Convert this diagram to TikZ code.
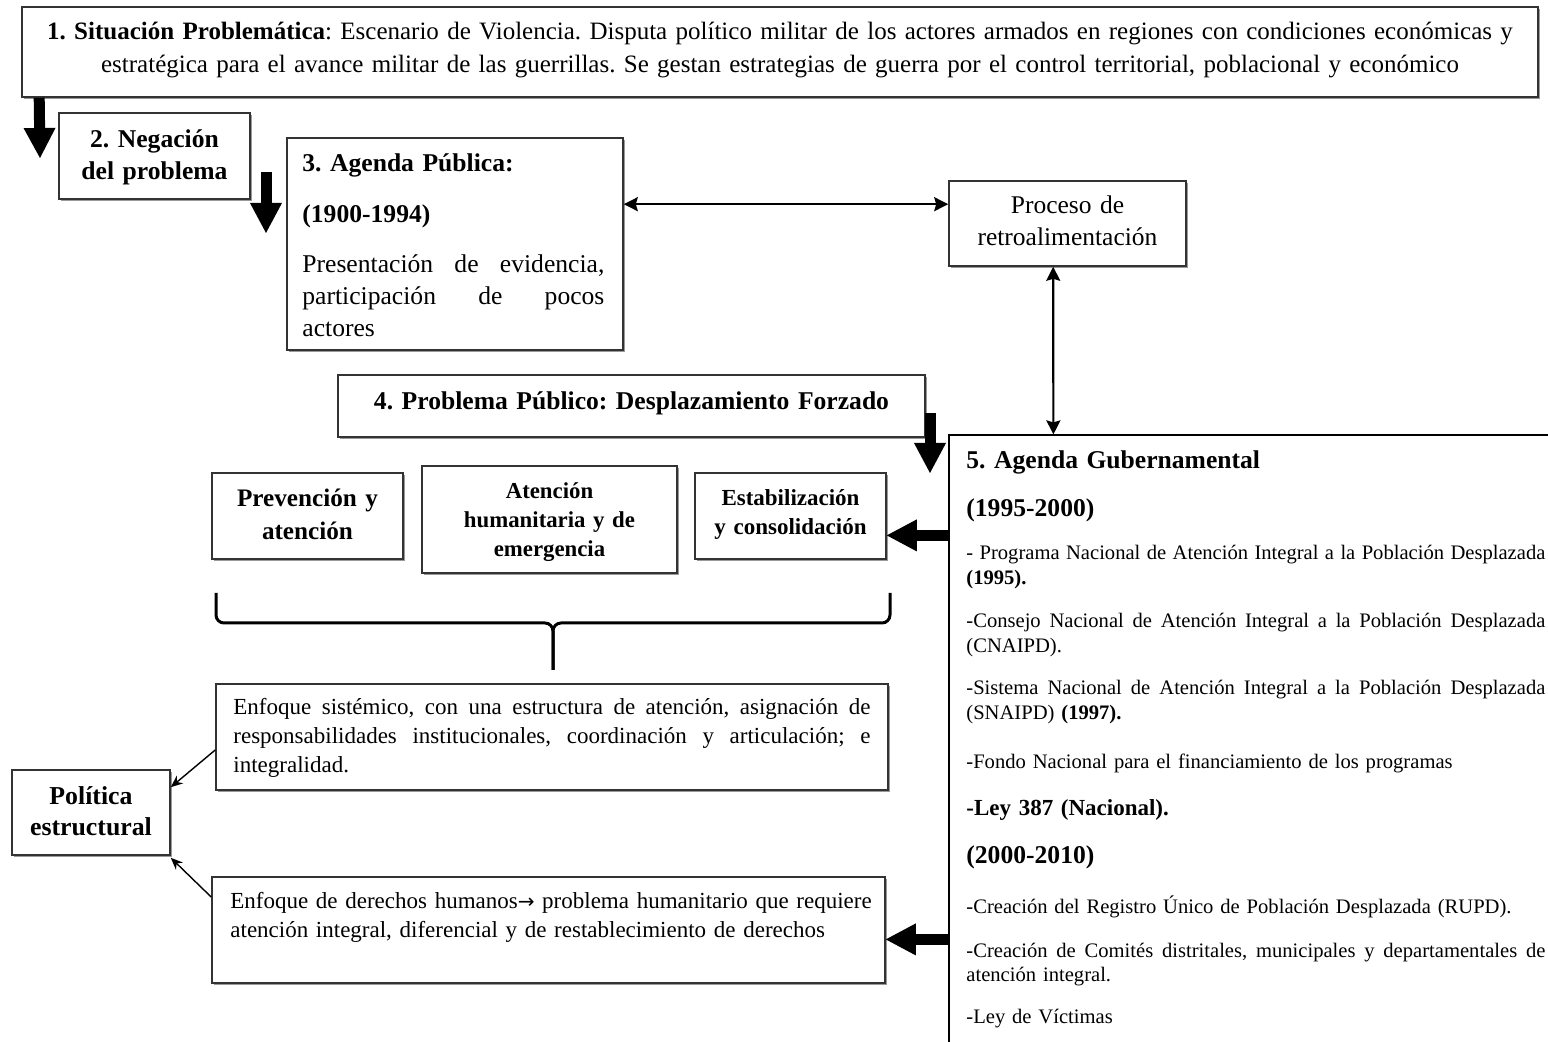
\documentclass[tikz,border=0pt]{standalone}
\usepackage{fontspec}
\setmainfont{Liberation Serif}
\newfontfamily\arrowfont{DejaVu Sans}
\usetikzlibrary{arrows.meta,shadows,fit}
% a line spread to the full text width (TikZ's ragged setting makes spaces rigid, so reset them)
\newcommand\jline[1]{\makebox[\hsize][s]{\spaceskip=0pt\xspaceskip=0pt #1}}
\newcommand\fsz[2]{\fontsize{#1}{#2}\selectfont}
\frenchspacing
\hyphenpenalty=10000

\tikzset{
  panel/.style={draw=black!80, line width=0.8pt, fill=white, inner sep=0pt,
    drop shadow={shadow xshift=0.9pt, shadow yshift=-0.9pt, fill=black!40, opacity=1}},
  openbox/.style={draw=black, line width=0.6pt, fill=white, inner sep=0pt},
  txt/.style={inner sep=0pt, anchor=base, align=center},
  ltxt/.style={inner sep=0pt, anchor=base west, align=left},
  bigarrow/.style={line width=5.5pt, -{Triangle[width=16pt,length=15pt,line width=0pt]}},
  dbl/.style={line width=1.1pt,
    {Stealth[length=7pt,width=7pt,inset=1pt]}-{Stealth[length=7pt,width=7pt,inset=1pt]}},
  pointer/.style={line width=0.7pt, -{Stealth[length=6pt,width=5pt]}},
  bracestroke/.style={line width=1.5pt, rounded corners=4pt}
}

\begin{document}
\begin{tikzpicture}[x=0.5pt,y=-0.5pt]
\useasboundingbox (0,0) rectangle (1548,1042);
\clip (0,0) rectangle (1548,1042);

% frames
\node[panel, fit={(22,7)(1538,97)}] (b1) {};
\node[panel, fit={(59,113)(250,199)}] (b2) {};
\node[panel, fit={(287,138)(623,350)}] (b3) {};
\node[panel, fit={(949,181)(1186,266)}] (br) {};
\node[panel, fit={(338,375)(925,437)}] (b4) {};
\node[openbox, fit={(949,435)(1600,1100)}] (b5) {};
\node[panel, fit={(212,473)(403,559)}] (bp) {};
\node[panel, fit={(422,466)(677,573)}] (ba) {};
\node[panel, fit={(695,473)(886,559)}] (be) {};
\node[panel, fit={(216,684)(888,790)}] (bs) {};
\node[panel, fit={(12,770)(170,855)}] (bpol) {};
\node[panel, fit={(212,877)(885,983)}] (bd) {};

% texts
\node[txt, text width=760pt, font=\fsz{12.5}{16.3}] (t1) at (780,40)
  {\textbf{1. Situación Problemática}: Escenario de Violencia. Disputa político militar de los actores armados en regiones con condiciones económicas y\\estratégica para el avance militar de las guerrillas. Se gestan estrategias de guerra por el control territorial, poblacional y económico};
\node[txt, text width=90pt, font=\fsz{12.8}{16}\bfseries] (t2) at (154.5,148)
  {2. Negación\\del problema};
\node[ltxt, text width=151pt, font=\fsz{12.8}{16}] (t3) at (302,172)
  {\textbf{3. Agenda Pública:}\\[9.5pt]\textbf{(1900-1994)}\\[9pt]\jline{Presentación de evidencia,}\\\jline{participación de pocos}\\actores};
\node[txt, text width=115pt, font=\fsz{12.75}{16}] (tr) at (1067.5,214)
  {Proceso de\\retroalimentación};
\node[txt, text width=290pt, font=\fsz{12.8}{16}\bfseries] (t4) at (631.5,410)
  {4. Problema Público: Desplazamiento Forzado};

\node[ltxt, text width=289.5pt, font=\fsz{12.8}{16}\bfseries] (t5a) at (966,469) {5. Agenda Gubernamental};
\node[ltxt, text width=289.5pt, font=\fsz{12.8}{16}\bfseries] (t5b) at (966,517) {(1995-2000)};
\node[ltxt, text width=289.5pt, font=\fsz{10.3}{12.2}] (t5c) at (966,560)
  {\jline{- Programa Nacional de Atención Integral a la Población Desplazada}\\\textbf{(1995).}};
\node[ltxt, text width=289.5pt, font=\fsz{10.3}{12.2}] (t5d) at (966,628)
  {\jline{-Consejo Nacional de Atención Integral a la Población Desplazada}\\(CNAIPD).};
\node[ltxt, text width=289.5pt, font=\fsz{10.3}{12.2}] (t5e) at (966,695)
  {\jline{-Sistema Nacional de Atención Integral a la Población Desplazada}\\(SNAIPD) \textbf{(1997).}};
\node[ltxt, text width=289.5pt, font=\fsz{10.3}{12.2}] (t5f) at (966,769)
  {-Fondo Nacional para el financiamiento de los programas};
\node[ltxt, text width=289.5pt, font=\fsz{11.5}{14}\bfseries] (t5g) at (966,815) {-Ley 387 (Nacional).};
\node[ltxt, text width=289.5pt, font=\fsz{12.8}{16}\bfseries] (t5h) at (966,863) {(2000-2010)};
\node[ltxt, text width=289.5pt, font=\fsz{10.3}{12.2}] (t5i) at (966,913)
  {-Creación del Registro Único de Población Desplazada (RUPD).};
\node[ltxt, text width=289.5pt, font=\fsz{10.3}{12.2}] (t5j) at (966,957)
  {\jline{-Creación de Comités distritales, municipales y departamentales de}\\atención integral.};
\node[ltxt, text width=289.5pt, font=\fsz{10.3}{12.2}] (t5k) at (966,1023) {-Ley de Víctimas};

\node[txt, text width=90pt, font=\fsz{12.6}{16.3}\bfseries] (tp) at (307.5,507) {Prevención y\\atención};
\node[txt, text width=120pt, font=\fsz{11.4}{14.4}\bfseries] (ta) at (549.5,499) {Atención\\humanitaria y de\\emergencia};
\node[txt, text width=90pt, font=\fsz{11.5}{14.3}\bfseries] (te) at (790.5,506) {Estabilización\\y consolidación};
\node[ltxt, text width=318.5pt, font=\fsz{11.5}{14.4}] (ts) at (233,715)
  {\jline{Enfoque sistémico, con una estructura de atención, asignación de}\\\jline{responsabilidades institucionales, coordinación y articulación; e}\\integralidad.};
\node[txt, text width=75pt, font=\fsz{12.9}{16}\bfseries] (tpol) at (91,804) {Política\\estructural};
\node[ltxt, text width=330pt, font=\fsz{11.5}{14.8}] (td) at (230,908)
  {Enfoque de derechos humanos{\arrowfont\fontsize{10}{10}\selectfont →} problema humanitario que requiere\\atención integral, diferencial y de restablecimiento de derechos};

% free ends of the heavy arrows
\coordinate (a1e) at (40,158);
\coordinate (a2s) at (266,172);
\coordinate (a2e) at (266,233);
\coordinate (a3s) at (930,413);
\coordinate (a3e) at (930,473);
\coordinate (d0) at ([yshift=-50.5pt]b5.north west);
\coordinate (e0) at ([yshift=-252.5pt]b5.north west);

\draw[bigarrow] ([xshift=9pt]b1.south west) -- (a1e);
\draw[bigarrow] (a2s) -- (a2e);
\draw[bigarrow] (a3s) -- (a3e);
\draw[bigarrow] (d0) -- (be.east |- d0);
\draw[bigarrow] (e0) -- (bd.east |- e0);

% feedback links
\draw[dbl] ([yshift=-33.5pt]b3.north east) -- ([yshift=-12pt]br.north west);
\draw[dbl] ([xshift=52.5pt]br.south west) -- ([xshift=52.5pt]b5.north west);

% links into the structural policy box
\draw[pointer] ([yshift=-6.5pt]bs.west) -- ([yshift=-9pt]bpol.north east);
\draw[pointer] ([yshift=16.5pt]bd.west) -- ([yshift=-1pt]bpol.south east);

% brace grouping the three components
\coordinate (brL) at (216,593);
\coordinate (brR) at (890,593);
\coordinate (brC) at (553,623);
\coordinate (brM) at (553,670);
\draw[bracestroke] (brL) -- (brL |- brC) -- (brC) -- (brM);
\draw[bracestroke] (brR) -- (brR |- brC) -- (brC) -- (brM);
\end{tikzpicture}
\end{document}
